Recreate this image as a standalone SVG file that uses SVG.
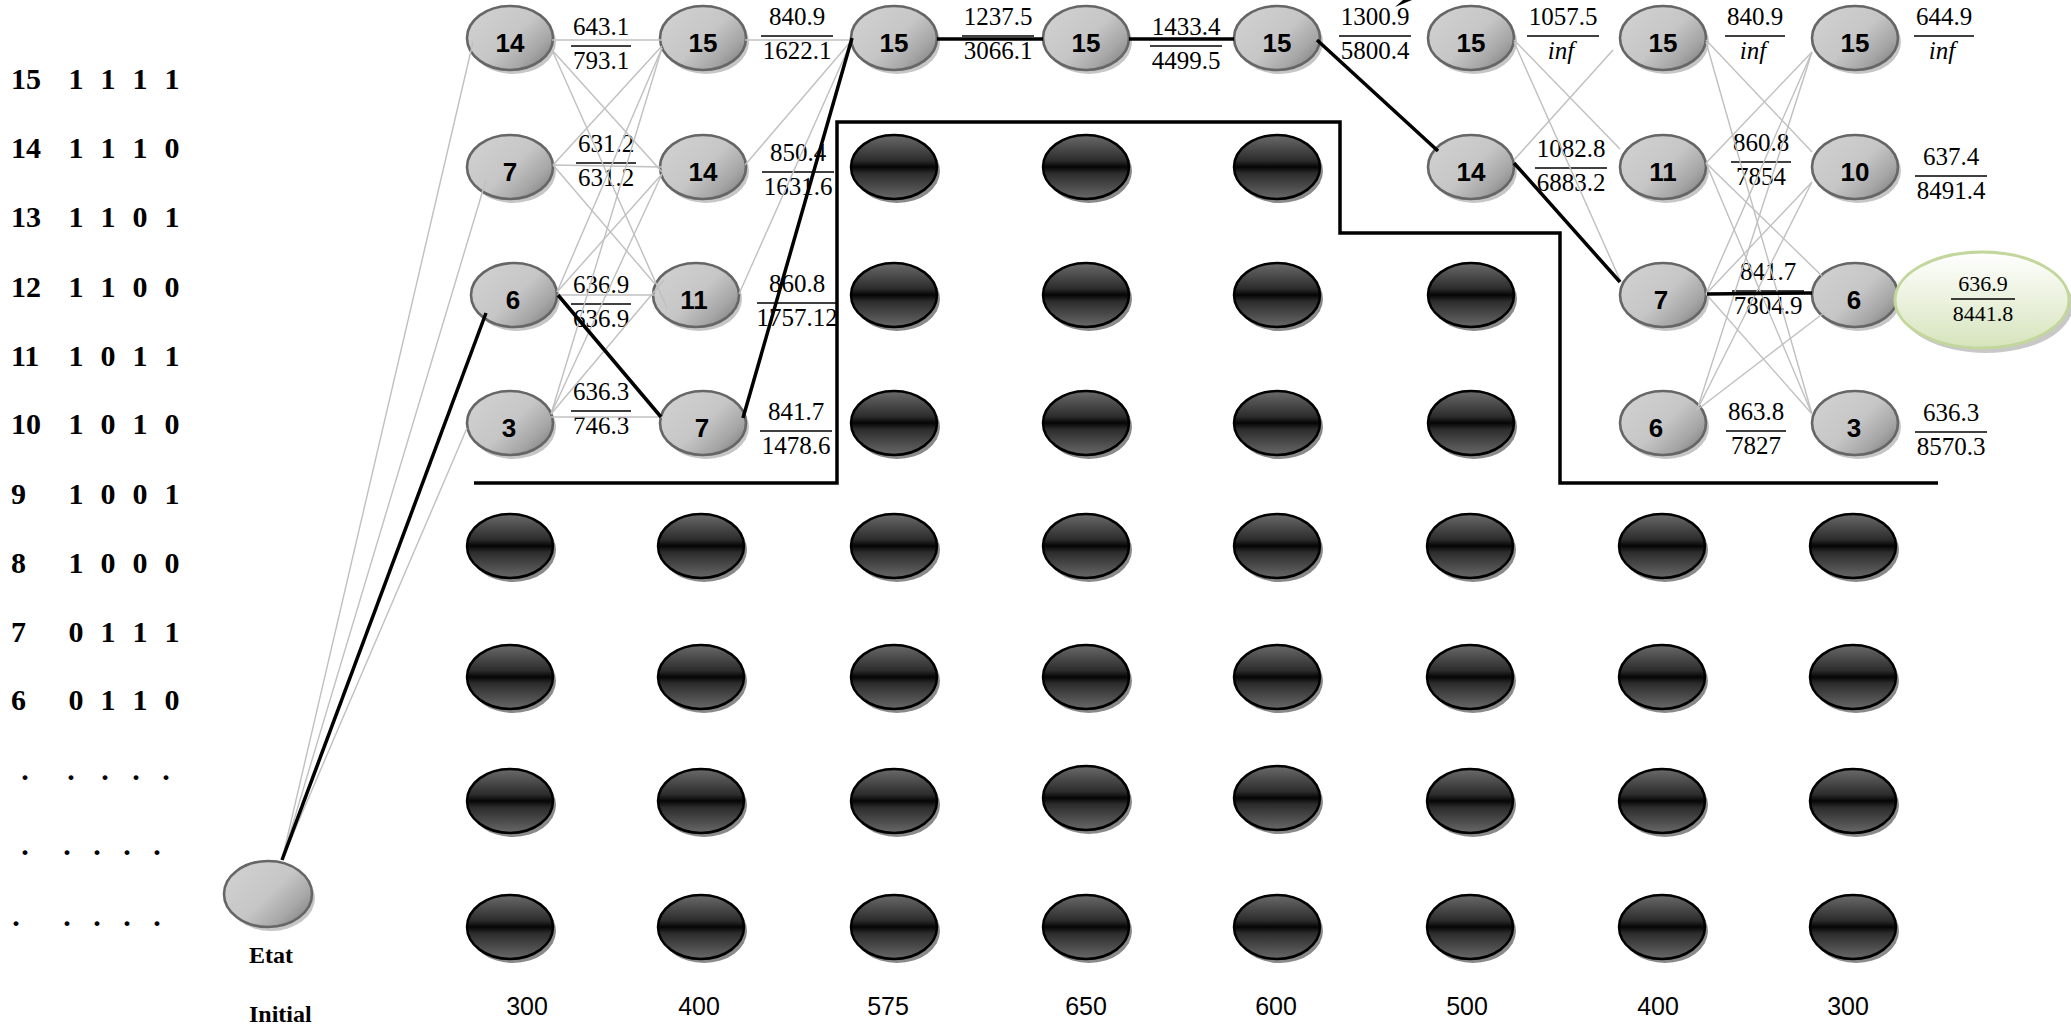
<svg xmlns="http://www.w3.org/2000/svg" width="2071" height="1027" viewBox="0 0 2071 1027">
<style>
.lt{font-family:"Liberation Serif","Times New Roman",serif;font-weight:bold;font-size:30px;fill:#000}
.lc{text-anchor:middle}
.ei{font-family:"Liberation Serif","Times New Roman",serif;font-weight:bold;font-size:24px;fill:#000}
.fr{font-family:"Liberation Serif","Times New Roman",serif;font-size:25px;text-anchor:middle;fill:#000}
.fs{font-size:22px}
.it{font-style:italic}
.fb{stroke:#000;stroke-width:1.7}
.nl{font-family:"Liberation Sans",Arial,sans-serif;font-weight:bold;font-size:26px;text-anchor:middle;fill:#000}
.ax{font-family:"Liberation Sans",Arial,sans-serif;font-size:25px;text-anchor:middle;fill:#000}
.gn{fill:url(#gg);stroke:#666;stroke-width:2.6}
.dn{fill:url(#dg);stroke:#000;stroke-width:2.5}
.sg{fill:#c6c6c6}
.sd{fill:#8a8a8a}
.gl{stroke:#c0c0c0;stroke-width:1.4;fill:none}
.bl{stroke:#000;stroke-width:3.5;fill:none}
.bd{stroke:#000;stroke-width:3.5;fill:none}
</style>
<defs>
<linearGradient id="gg" x1="0.1" y1="0.2" x2="1" y2="0.9">
<stop offset="0" stop-color="#cfcfcf"/>
<stop offset="0.45" stop-color="#c6c6c6"/>
<stop offset="0.75" stop-color="#a6a6a6"/>
<stop offset="1" stop-color="#7c7c7c"/>
</linearGradient>
<linearGradient id="dg" x1="0" y1="0" x2="0" y2="1">
<stop offset="0" stop-color="#6a6a6a"/>
<stop offset="0.4" stop-color="#2c2c2c"/>
<stop offset="0.5" stop-color="#050505"/>
<stop offset="0.6" stop-color="#2c2c2c"/>
<stop offset="1" stop-color="#686868"/>
</linearGradient>
<linearGradient id="grn" x1="0" y1="0" x2="0" y2="1">
<stop offset="0" stop-color="#ffffff"/>
<stop offset="1" stop-color="#d6e4bc"/>
</linearGradient>
</defs>
<rect width="2071" height="1027" fill="#fff"/>

<g id="state-table">
<text class="lt" x="11" y="89">15</text><text class="lt lc" x="76 92 108 124 140 156 172" y="89">1 1 1 1</text>
<text class="lt" x="11" y="158">14</text><text class="lt lc" x="76 92 108 124 140 156 172" y="158">1 1 1 0</text>
<text class="lt" x="11" y="227">13</text><text class="lt lc" x="76 92 108 124 140 156 172" y="227">1 1 0 1</text>
<text class="lt" x="11" y="297">12</text><text class="lt lc" x="76 92 108 124 140 156 172" y="297">1 1 0 0</text>
<text class="lt" x="11" y="366">11</text><text class="lt lc" x="76 92 108 124 140 156 172" y="366">1 0 1 1</text>
<text class="lt" x="11" y="434">10</text><text class="lt lc" x="76 92 108 124 140 156 172" y="434">1 0 1 0</text>
<text class="lt" x="11" y="504">9</text><text class="lt lc" x="76 92 108 124 140 156 172" y="504">1 0 0 1</text>
<text class="lt" x="11" y="573">8</text><text class="lt lc" x="76 92 108 124 140 156 172" y="573">1 0 0 0</text>
<text class="lt" x="11" y="642">7</text><text class="lt lc" x="76 92 108 124 140 156 172" y="642">0 1 1 1</text>
<text class="lt" x="11" y="710">6</text><text class="lt lc" x="76 92 108 124 140 156 172" y="710">0 1 1 0</text>
<text class="lt lc" x="25 48 71 88 105 120 136 151 166" y="780">. . . . .</text>
<text class="lt lc" x="25 46 67 82 97 112 127 142 157" y="855">. . . . .</text>
<text class="lt lc" x="16 41 67 82 97 112 127 142 157" y="926">. . . . .</text>
<text class="ei" x="249" y="963">Etat</text>
<text class="ei" x="249" y="1022">Initial</text>
</g>

<g id="axis-labels">
<text class="ax" x="527" y="1015">300</text>
<text class="ax" x="699" y="1015">400</text>
<text class="ax" x="888" y="1015">575</text>
<text class="ax" x="1086" y="1015">650</text>
<text class="ax" x="1276" y="1015">600</text>
<text class="ax" x="1467" y="1015">500</text>
<text class="ax" x="1658" y="1015">400</text>
<text class="ax" x="1848" y="1015">300</text>
</g>

<g id="cost-labels">
<g><text class="fr" x="601" y="35">643.1</text><line class="fb" x1="571" y1="46" x2="631" y2="46"/><text class="fr" x="601" y="69">793.1</text></g>
<g><text class="fr" x="606" y="152">631.2</text><line class="fb" x1="576" y1="163" x2="636" y2="163"/><text class="fr" x="606" y="186">631.2</text></g>
<g><text class="fr" x="601" y="293">636.9</text><line class="fb" x1="571" y1="304" x2="631" y2="304"/><text class="fr" x="601" y="327">636.9</text></g>
<g><text class="fr" x="601" y="400">636.3</text><line class="fb" x1="571" y1="411" x2="631" y2="411"/><text class="fr" x="601" y="434">746.3</text></g>
<g><text class="fr" x="797" y="25">840.9</text><line class="fb" x1="761" y1="36" x2="833" y2="36"/><text class="fr" x="797" y="59">1622.1</text></g>
<g><text class="fr" x="798" y="161">850.4</text><line class="fb" x1="762" y1="172" x2="834" y2="172"/><text class="fr" x="798" y="195">1631.6</text></g>
<g><text class="fr" x="797" y="292">860.8</text><line class="fb" x1="757" y1="303" x2="837" y2="303"/><text class="fr" x="797" y="326">1757.12</text></g>
<g><text class="fr" x="796" y="420">841.7</text><line class="fb" x1="760" y1="431" x2="832" y2="431"/><text class="fr" x="796" y="454">1478.6</text></g>
<g><text class="fr" x="998" y="25">1237.5</text><line class="fb" x1="962" y1="36" x2="1034" y2="36"/><text class="fr" x="998" y="59">3066.1</text></g>
<g><text class="fr" x="1186" y="35">1433.4</text><line class="fb" x1="1150" y1="46" x2="1222" y2="46"/><text class="fr" x="1186" y="69">4499.5</text></g>
<g><text class="fr" x="1375" y="25">1300.9</text><line class="fb" x1="1339" y1="36" x2="1411" y2="36"/><text class="fr" x="1375" y="59">5800.4</text></g>
<g><text class="fr" x="1563" y="25">1057.5</text><line class="fb" x1="1527" y1="36" x2="1599" y2="36"/><text class="fr it" x="1561" y="59">inf</text></g>
<g><text class="fr" x="1571" y="157">1082.8</text><line class="fb" x1="1535" y1="168" x2="1607" y2="168"/><text class="fr" x="1571" y="191">6883.2</text></g>
<g><text class="fr" x="1755" y="25">840.9</text><line class="fb" x1="1725" y1="36" x2="1785" y2="36"/><text class="fr it" x="1753" y="59">inf</text></g>
<g><text class="fr" x="1944" y="25">644.9</text><line class="fb" x1="1914" y1="36" x2="1974" y2="36"/><text class="fr it" x="1942" y="59">inf</text></g>
<g><text class="fr" x="1761" y="151">860.8</text><line class="fb" x1="1731" y1="162" x2="1791" y2="162"/><text class="fr" x="1761" y="185">7854</text></g>
<g><text class="fr" x="1951" y="165">637.4</text><line class="fb" x1="1915" y1="176" x2="1987" y2="176"/><text class="fr" x="1951" y="199">8491.4</text></g>
<g><text class="fr" x="1768" y="280">841.7</text><line class="fb" x1="1732" y1="291" x2="1804" y2="291"/><text class="fr" x="1768" y="314">7804.9</text></g>
<g><text class="fr" x="1756" y="420">863.8</text><line class="fb" x1="1726" y1="431" x2="1786" y2="431"/><text class="fr" x="1756" y="454">7827</text></g>
<g><text class="fr" x="1951" y="421">636.3</text><line class="fb" x1="1915" y1="432" x2="1987" y2="432"/><text class="fr" x="1951" y="455">8570.3</text></g>
</g>

<path id="feasible-boundary" class="bd" d="M474 483 H837 V122 H1340 V233 H1560 V483 H1938"/>

<g id="nodes">
<g id="initial"><ellipse class="sg" cx="271" cy="898" rx="44" ry="33"/><ellipse class="gn" cx="268" cy="894" rx="44" ry="33"/></g>

<g id="c1-14"><ellipse class="sg" cx="513" cy="42" rx="43" ry="32"/><ellipse class="gn" cx="510" cy="38" rx="43" ry="32"/><text class="nl" x="510" y="52">14</text></g>
<g id="c1-7"><ellipse class="sg" cx="513" cy="171" rx="43" ry="32"/><ellipse class="gn" cx="510" cy="167" rx="43" ry="32"/><text class="nl" x="510" y="181">7</text></g>
<g id="c1-6"><ellipse class="sg" cx="517" cy="299" rx="43" ry="32"/><ellipse class="gn" cx="514" cy="295" rx="43" ry="32"/><text class="nl" x="513" y="309">6</text></g>
<g id="c1-3"><ellipse class="sg" cx="513" cy="427" rx="43" ry="32"/><ellipse class="gn" cx="510" cy="423" rx="43" ry="32"/><text class="nl" x="509" y="437">3</text></g>

<g id="c2-15"><ellipse class="sg" cx="706" cy="42" rx="43" ry="32"/><ellipse class="gn" cx="703" cy="38" rx="43" ry="32"/><text class="nl" x="703" y="52">15</text></g>
<g id="c2-14"><ellipse class="sg" cx="706" cy="171" rx="43" ry="32"/><ellipse class="gn" cx="703" cy="167" rx="43" ry="32"/><text class="nl" x="703" y="181">14</text></g>
<g id="c2-11"><ellipse class="sg" cx="699" cy="299" rx="43" ry="32"/><ellipse class="gn" cx="696" cy="295" rx="43" ry="32"/><text class="nl" x="694" y="309">11</text></g>
<g id="c2-7"><ellipse class="sg" cx="706" cy="427" rx="43" ry="32"/><ellipse class="gn" cx="703" cy="423" rx="43" ry="32"/><text class="nl" x="702" y="437">7</text></g>

<g id="c3-15"><ellipse class="sg" cx="897" cy="42" rx="43" ry="32"/><ellipse class="gn" cx="894" cy="38" rx="43" ry="32"/><text class="nl" x="894" y="52">15</text></g>
<g id="c4-15"><ellipse class="sg" cx="1089" cy="42" rx="43" ry="32"/><ellipse class="gn" cx="1086" cy="38" rx="43" ry="32"/><text class="nl" x="1086" y="52">15</text></g>
<g id="c5-15"><ellipse class="sg" cx="1280" cy="42" rx="43" ry="32"/><ellipse class="gn" cx="1277" cy="38" rx="43" ry="32"/><text class="nl" x="1277" y="52">15</text></g>

<g id="c6-15"><ellipse class="sg" cx="1474" cy="42" rx="43" ry="32"/><ellipse class="gn" cx="1471" cy="38" rx="43" ry="32"/><text class="nl" x="1471" y="52">15</text></g>
<g id="c6-14"><ellipse class="sg" cx="1474" cy="171" rx="43" ry="32"/><ellipse class="gn" cx="1471" cy="167" rx="43" ry="32"/><text class="nl" x="1471" y="181">14</text></g>

<g id="c7-15"><ellipse class="sg" cx="1666" cy="42" rx="43" ry="32"/><ellipse class="gn" cx="1663" cy="38" rx="43" ry="32"/><text class="nl" x="1663" y="52">15</text></g>
<g id="c7-11"><ellipse class="sg" cx="1666" cy="171" rx="43" ry="32"/><ellipse class="gn" cx="1663" cy="167" rx="43" ry="32"/><text class="nl" x="1663" y="181">11</text></g>
<g id="c7-7"><ellipse class="sg" cx="1666" cy="299" rx="43" ry="32"/><ellipse class="gn" cx="1663" cy="295" rx="43" ry="32"/><text class="nl" x="1661" y="309">7</text></g>
<g id="c7-6"><ellipse class="sg" cx="1666" cy="427" rx="43" ry="32"/><ellipse class="gn" cx="1663" cy="423" rx="43" ry="32"/><text class="nl" x="1656" y="437">6</text></g>

<g id="c8-15"><ellipse class="sg" cx="1858" cy="42" rx="43" ry="32"/><ellipse class="gn" cx="1855" cy="38" rx="43" ry="32"/><text class="nl" x="1855" y="52">15</text></g>
<g id="c8-10"><ellipse class="sg" cx="1858" cy="171" rx="43" ry="32"/><ellipse class="gn" cx="1855" cy="167" rx="43" ry="32"/><text class="nl" x="1855" y="181">10</text></g>
<g id="c8-6"><ellipse class="sg" cx="1858" cy="299" rx="43" ry="32"/><ellipse class="gn" cx="1855" cy="295" rx="43" ry="32"/><text class="nl" x="1854" y="309">6</text></g>
<g id="c8-3"><ellipse class="sg" cx="1858" cy="427" rx="43" ry="32"/><ellipse class="gn" cx="1855" cy="423" rx="43" ry="32"/><text class="nl" x="1854" y="437">3</text></g>

<g id="final"><ellipse cx="1986" cy="305" rx="87" ry="48" fill="#c8c8c8"/><ellipse cx="1982" cy="300" rx="87" ry="48" fill="url(#grn)" stroke="#c3d69b" stroke-width="3"/><text class="fr fs" x="1983" y="291">636.9</text><line class="fb" x1="1951" y1="299" x2="2015" y2="299"/><text class="fr fs" x="1983" y="321">8441.8</text></g>

<g id="infeasible">
<g id="d-c3-2"><ellipse class="sd" cx="897" cy="171" rx="43" ry="32"/><ellipse class="dn" cx="894" cy="167" rx="43" ry="32"/></g>
<g id="d-c3-3"><ellipse class="sd" cx="897" cy="299" rx="43" ry="32"/><ellipse class="dn" cx="894" cy="295" rx="43" ry="32"/></g>
<g id="d-c3-4"><ellipse class="sd" cx="897" cy="427" rx="43" ry="32"/><ellipse class="dn" cx="894" cy="423" rx="43" ry="32"/></g>
<g id="d-c4-2"><ellipse class="sd" cx="1089" cy="171" rx="43" ry="32"/><ellipse class="dn" cx="1086" cy="167" rx="43" ry="32"/></g>
<g id="d-c4-3"><ellipse class="sd" cx="1089" cy="299" rx="43" ry="32"/><ellipse class="dn" cx="1086" cy="295" rx="43" ry="32"/></g>
<g id="d-c4-4"><ellipse class="sd" cx="1089" cy="427" rx="43" ry="32"/><ellipse class="dn" cx="1086" cy="423" rx="43" ry="32"/></g>
<g id="d-c5-2"><ellipse class="sd" cx="1280" cy="171" rx="43" ry="32"/><ellipse class="dn" cx="1277" cy="167" rx="43" ry="32"/></g>
<g id="d-c5-3"><ellipse class="sd" cx="1280" cy="299" rx="43" ry="32"/><ellipse class="dn" cx="1277" cy="295" rx="43" ry="32"/></g>
<g id="d-c5-4"><ellipse class="sd" cx="1280" cy="427" rx="43" ry="32"/><ellipse class="dn" cx="1277" cy="423" rx="43" ry="32"/></g>
<g id="d-c6-3"><ellipse class="sd" cx="1474" cy="299" rx="43" ry="32"/><ellipse class="dn" cx="1471" cy="295" rx="43" ry="32"/></g>
<g id="d-c6-4"><ellipse class="sd" cx="1474" cy="427" rx="43" ry="32"/><ellipse class="dn" cx="1471" cy="423" rx="43" ry="32"/></g>

<g id="d-c1-5"><ellipse class="sd" cx="513" cy="550" rx="43" ry="32"/><ellipse class="dn" cx="510" cy="546" rx="43" ry="32"/></g>
<g id="d-c2-5"><ellipse class="sd" cx="704" cy="550" rx="43" ry="32"/><ellipse class="dn" cx="701" cy="546" rx="43" ry="32"/></g>
<g id="d-c3-5"><ellipse class="sd" cx="897" cy="550" rx="43" ry="32"/><ellipse class="dn" cx="894" cy="546" rx="43" ry="32"/></g>
<g id="d-c4-5"><ellipse class="sd" cx="1089" cy="550" rx="43" ry="32"/><ellipse class="dn" cx="1086" cy="546" rx="43" ry="32"/></g>
<g id="d-c5-5"><ellipse class="sd" cx="1280" cy="550" rx="43" ry="32"/><ellipse class="dn" cx="1277" cy="546" rx="43" ry="32"/></g>
<g id="d-c6-5"><ellipse class="sd" cx="1473" cy="550" rx="43" ry="32"/><ellipse class="dn" cx="1470" cy="546" rx="43" ry="32"/></g>
<g id="d-c7-5"><ellipse class="sd" cx="1665" cy="550" rx="43" ry="32"/><ellipse class="dn" cx="1662" cy="546" rx="43" ry="32"/></g>
<g id="d-c8-5"><ellipse class="sd" cx="1856" cy="550" rx="43" ry="32"/><ellipse class="dn" cx="1853" cy="546" rx="43" ry="32"/></g>

<g id="d-c1-6"><ellipse class="sd" cx="513" cy="681" rx="43" ry="32"/><ellipse class="dn" cx="510" cy="677" rx="43" ry="32"/></g>
<g id="d-c2-6"><ellipse class="sd" cx="704" cy="681" rx="43" ry="32"/><ellipse class="dn" cx="701" cy="677" rx="43" ry="32"/></g>
<g id="d-c3-6"><ellipse class="sd" cx="897" cy="681" rx="43" ry="32"/><ellipse class="dn" cx="894" cy="677" rx="43" ry="32"/></g>
<g id="d-c4-6"><ellipse class="sd" cx="1089" cy="681" rx="43" ry="32"/><ellipse class="dn" cx="1086" cy="677" rx="43" ry="32"/></g>
<g id="d-c5-6"><ellipse class="sd" cx="1280" cy="681" rx="43" ry="32"/><ellipse class="dn" cx="1277" cy="677" rx="43" ry="32"/></g>
<g id="d-c6-6"><ellipse class="sd" cx="1473" cy="681" rx="43" ry="32"/><ellipse class="dn" cx="1470" cy="677" rx="43" ry="32"/></g>
<g id="d-c7-6"><ellipse class="sd" cx="1665" cy="681" rx="43" ry="32"/><ellipse class="dn" cx="1662" cy="677" rx="43" ry="32"/></g>
<g id="d-c8-6"><ellipse class="sd" cx="1856" cy="681" rx="43" ry="32"/><ellipse class="dn" cx="1853" cy="677" rx="43" ry="32"/></g>

<g id="d-c1-7"><ellipse class="sd" cx="513" cy="805" rx="43" ry="32"/><ellipse class="dn" cx="510" cy="801" rx="43" ry="32"/></g>
<g id="d-c2-7"><ellipse class="sd" cx="704" cy="805" rx="43" ry="32"/><ellipse class="dn" cx="701" cy="801" rx="43" ry="32"/></g>
<g id="d-c3-7"><ellipse class="sd" cx="897" cy="805" rx="43" ry="32"/><ellipse class="dn" cx="894" cy="801" rx="43" ry="32"/></g>
<g id="d-c4-7"><ellipse class="sd" cx="1089" cy="802" rx="43" ry="32"/><ellipse class="dn" cx="1086" cy="798" rx="43" ry="32"/></g>
<g id="d-c5-7"><ellipse class="sd" cx="1280" cy="802" rx="43" ry="32"/><ellipse class="dn" cx="1277" cy="798" rx="43" ry="32"/></g>
<g id="d-c6-7"><ellipse class="sd" cx="1473" cy="805" rx="43" ry="32"/><ellipse class="dn" cx="1470" cy="801" rx="43" ry="32"/></g>
<g id="d-c7-7"><ellipse class="sd" cx="1665" cy="805" rx="43" ry="32"/><ellipse class="dn" cx="1662" cy="801" rx="43" ry="32"/></g>
<g id="d-c8-7"><ellipse class="sd" cx="1856" cy="805" rx="43" ry="32"/><ellipse class="dn" cx="1853" cy="801" rx="43" ry="32"/></g>

<g id="d-c1-8"><ellipse class="sd" cx="513" cy="931" rx="43" ry="32"/><ellipse class="dn" cx="510" cy="927" rx="43" ry="32"/></g>
<g id="d-c2-8"><ellipse class="sd" cx="704" cy="931" rx="43" ry="32"/><ellipse class="dn" cx="701" cy="927" rx="43" ry="32"/></g>
<g id="d-c3-8"><ellipse class="sd" cx="897" cy="931" rx="43" ry="32"/><ellipse class="dn" cx="894" cy="927" rx="43" ry="32"/></g>
<g id="d-c4-8"><ellipse class="sd" cx="1089" cy="931" rx="43" ry="32"/><ellipse class="dn" cx="1086" cy="927" rx="43" ry="32"/></g>
<g id="d-c5-8"><ellipse class="sd" cx="1280" cy="931" rx="43" ry="32"/><ellipse class="dn" cx="1277" cy="927" rx="43" ry="32"/></g>
<g id="d-c6-8"><ellipse class="sd" cx="1473" cy="931" rx="43" ry="32"/><ellipse class="dn" cx="1470" cy="927" rx="43" ry="32"/></g>
<g id="d-c7-8"><ellipse class="sd" cx="1665" cy="931" rx="43" ry="32"/><ellipse class="dn" cx="1662" cy="927" rx="43" ry="32"/></g>
<g id="d-c8-8"><ellipse class="sd" cx="1856" cy="931" rx="43" ry="32"/><ellipse class="dn" cx="1853" cy="927" rx="43" ry="32"/></g>
</g>
</g>

<g id="connectors">
<line class="gl" x1="282" y1="860" x2="473" y2="42"/>
<line class="gl" x1="282" y1="860" x2="486" y2="180" stroke-width="1.8"/>
<line class="gl" x1="282" y1="860" x2="467" y2="428"/>
<line class="bl" x1="282" y1="860" x2="486" y2="313"/>

<line class="gl" x1="552" y1="40" x2="662" y2="40"/>
<line class="gl" x1="552" y1="50" x2="662" y2="172"/>
<line class="gl" x1="552" y1="50" x2="667" y2="308"/>
<line class="gl" x1="553" y1="165" x2="662" y2="46"/>
<line class="gl" x1="553" y1="165" x2="662" y2="167"/>
<line class="gl" x1="553" y1="165" x2="655" y2="284"/>
<line class="gl" x1="557" y1="292" x2="662" y2="48"/>
<line class="gl" x1="557" y1="292" x2="662" y2="174"/>
<line class="gl" x1="557" y1="295" x2="655" y2="295"/>
<line class="gl" x1="551" y1="414" x2="662" y2="48"/>
<line class="gl" x1="551" y1="414" x2="662" y2="174"/>
<line class="gl" x1="551" y1="414" x2="664" y2="280"/>
<line class="gl" x1="551" y1="417" x2="662" y2="417"/>
<line class="bl" x1="558" y1="295" x2="661" y2="417"/>

<line class="gl" x1="745" y1="40" x2="852" y2="40"/>
<line class="gl" x1="745" y1="165" x2="852" y2="40"/>
<line class="gl" x1="739" y1="294" x2="852" y2="40"/>
<line class="bl" x1="743" y1="418" x2="852" y2="38"/>

<line class="bl" x1="937" y1="39" x2="1043" y2="39"/>
<line class="bl" x1="1129" y1="39" x2="1234" y2="39"/>
<line class="bl" x1="1317" y1="40" x2="1438" y2="151"/>

<line class="gl" x1="1514" y1="40" x2="1620" y2="149"/>
<line class="gl" x1="1514" y1="42" x2="1621" y2="282"/>
<line class="gl" x1="1514" y1="160" x2="1613" y2="50"/>
<line class="bl" x1="1514" y1="163" x2="1620" y2="282"/>

<line class="gl" x1="1706" y1="40" x2="1812" y2="152"/>
<line class="gl" x1="1706" y1="42" x2="1812" y2="414"/>
<line class="gl" x1="1706" y1="163" x2="1812" y2="52"/>
<line class="gl" x1="1706" y1="163" x2="1822" y2="276"/>
<line class="gl" x1="1706" y1="163" x2="1812" y2="414"/>
<line class="gl" x1="1706" y1="294" x2="1812" y2="52"/>
<line class="gl" x1="1706" y1="294" x2="1812" y2="182"/>
<line class="gl" x1="1706" y1="294" x2="1812" y2="414"/>
<line class="gl" x1="1697" y1="410" x2="1812" y2="52"/>
<line class="gl" x1="1697" y1="410" x2="1812" y2="182"/>
<line class="gl" x1="1697" y1="410" x2="1825" y2="312"/>
<line class="bl" x1="1707" y1="294" x2="1812" y2="293" stroke-width="5"/>

<polygon points="1395,7 1412,0 1403,0" fill="#000"/>
</g>
</svg>
